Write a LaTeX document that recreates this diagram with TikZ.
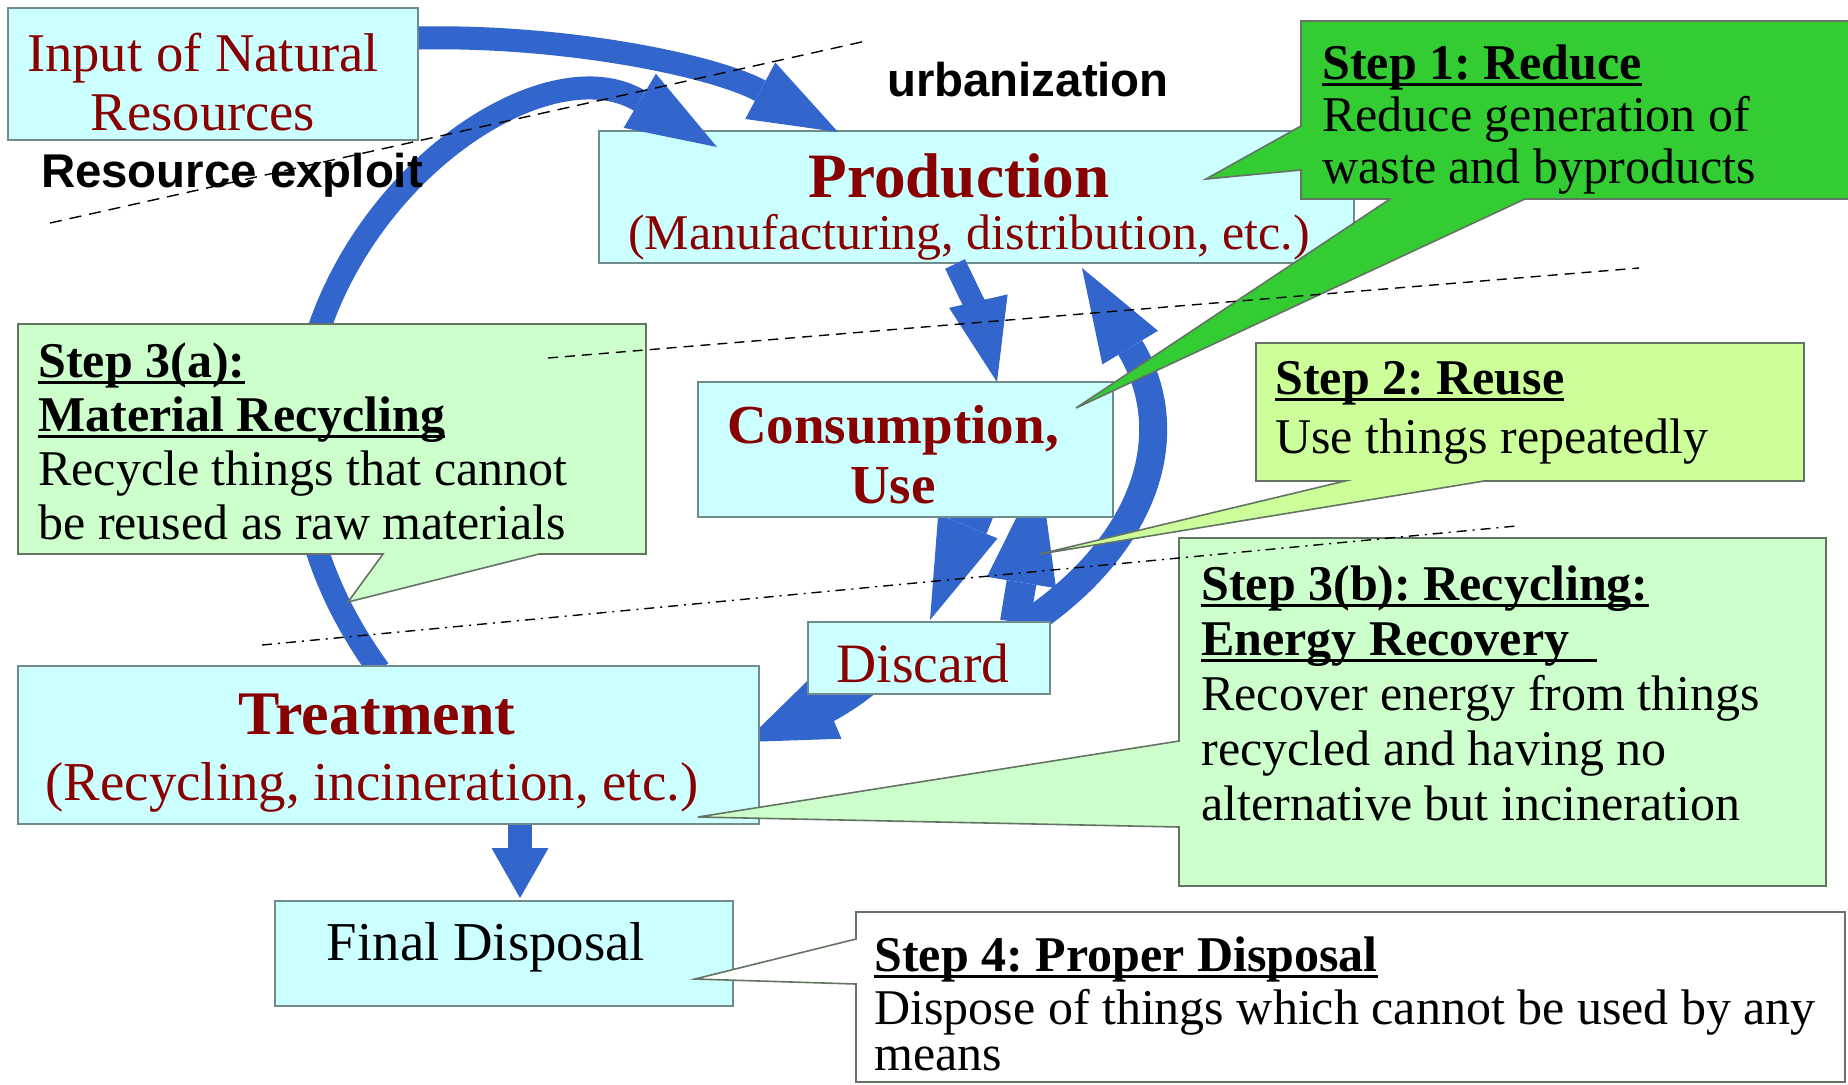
\documentclass[tikz,border=0pt]{standalone}
\usepackage{fontspec}
\setmainfont{Liberation Serif}
\newfontfamily\headfont{Liberation Sans}
\usetikzlibrary{arrows.meta,calc}
\frenchspacing

\definecolor{flowblue}{RGB}{51,102,204}
\definecolor{boxcyan}{RGB}{204,255,255}
\definecolor{boxline}{RGB}{110,140,140}
\definecolor{boxred}{RGB}{136,0,0}
\definecolor{reducegreen}{RGB}{51,204,51}
\definecolor{reusegreen}{RGB}{204,255,153}
\definecolor{recyclegreen}{RGB}{204,255,204}
\definecolor{calloutline}{RGB}{100,115,100}

\pgfdeclarelayer{under}
\pgfdeclarelayer{flows}
\pgfsetlayers{under,flows,main}

\newcommand\steptitle[1]{{\setbox0=\hbox{\bfseries #1}\rlap{\rule[-3.5pt]{\wd0}{1.6pt}}\box0}}

\tikzset{
  procbox/.style={draw=boxline, fill=boxcyan, line width=1pt, inner sep=0pt, outer sep=0pt},
  flow/.style={draw=flowblue, line cap=butt},
  callout/.style={draw=calloutline, line width=0.8pt, line join=miter},
  boxtext/.style={anchor=base, inner sep=0pt, text=boxred, align=center},
  steptext/.style={anchor=base west, inner sep=0pt, align=left},
  zoneline/.style={line width=0.7pt, dash pattern=on 6pt off 4pt}
}

\begin{document}
\begin{tikzpicture}[x=0.5pt,y=0.5pt,yscale=-1,xscale=1]
        \useasboundingbox (0,0) rectangle (1848,1084);
        \begin{pgfonlayer}{under}
        \fill[white] (0,0) rectangle (1848,1084);
        \node[procbox, minimum width=205pt, minimum height=66pt] (inp) at (213,74) {};
        \node[procbox, minimum width=377.5pt, minimum height=66pt] (prod) at (976.5,197) {};
        \end{pgfonlayer}

        \node[procbox, minimum width=207.5pt, minimum height=67.5pt] (cons) at (905.5,449.5) {};
        \node[procbox, minimum width=121pt, minimum height=36pt] (disc) at (929,658) {};
        \node[procbox, minimum width=370.5pt, minimum height=79pt] (treat) at (388.5,745) {};
        \node[procbox, minimum width=229pt, minimum height=52.5pt] (fdisp) at (504,953.5) {};

        % flows
        \begin{pgfonlayer}{flows}
        \draw[flow, line width=11.5pt, -{Triangle[length=44pt,width=32pt,line width=0pt]}] ($(inp.north east)+(1,30)$) .. controls (560,35) and (710,64) .. ($(prod.north west)+(239,1)$);
        \draw[flow, line width=11.5pt, -{Triangle[length=45pt,width=31.5pt,line width=0pt]}] ($(treat.north)+(-9.5,4)$) .. controls (141,341) and (503,19) .. ($(prod.north west)+(118,16)$);
        \draw[flow, line width=11pt, -{Triangle[length=41.5pt,width=30pt,line width=0pt]}] ($(prod.south)+(-21.5,1)$) .. controls (968,290) and (985,330) .. ($(cons.north)+(91.5,0)$);
        \draw[flow, line width=14pt, -{Triangle[length=46.5pt,width=32.5pt,line width=0pt]}] ($(disc.north east)+(-20,0)$) .. controls (1150,540) and (1180,430) .. ($(prod.south)+(105.5,5)$);
        \draw[flow, line width=20pt, -{Triangle[length=50.5pt,width=32pt,line width=0pt]}] ($(cons.center)+(81.5,29.5)$) -- ($(disc.north)+(1,-2)$);
        \draw[flow, line width=15pt, -{Triangle[length=57pt,width=35pt,line width=0pt]}] ($(disc.north)+(86,0)$) -- ($(cons.south)+(134.5,-47)$);
        \draw[flow, line width=16pt, -{Triangle[length=45pt,width=35pt,line width=0pt]}] ($(disc.center)+(-39,-3)$) .. controls (865,690) and (815,712) .. ($(treat.east)+(-14,-3)$);
        \draw[flow, line width=12pt, -{Triangle[length=25pt,width=28.5pt,line width=0pt]}] ($(treat.south)+(131.5,0)$) -- ($(fdisp.north)+(16,-3)$);
        \end{pgfonlayer}

        % callouts
        \draw[callout, fill=recyclegreen] (18,324) -- (646,324) -- (646,554) -- (539,554) -- (348,602) -- (383,554) -- (18,554) -- cycle;
        \draw[callout, fill=reducegreen] (1301,21) -- (1860,21) -- (1860,199) -- (1525,199) -- (1076,408) -- (1390,199) -- (1301,199) -- (1301,170) -- (1206,179) -- (1301,126) -- cycle;
        \draw[callout, fill=reusegreen] (1256,343) -- (1804,343) -- (1804,481) -- (1484,481) -- (1040,554) -- (1345,481) -- (1256,481) -- cycle;
        \draw[callout, fill=recyclegreen] (1179,538) -- (1826,538) -- (1826,886) -- (1179,886) -- (1179,827) -- (698,817) -- (1179,741) -- cycle;
        \draw[callout, fill=white] (856,912) -- (1845,912) -- (1845,1082) -- (856,1082) -- (856,984) -- (695,979) -- (856,939) -- cycle;

        \node[boxtext, font=\fontsize{27.3}{29.5}\selectfont] (inptxt) at (203,130) {Input of Natural\\Resources};
        \node[boxtext, font=\fontsize{31.6}{34}\selectfont\bfseries] (prodtitle) at (959,197) {Production};
        \node[boxtext, font=\fontsize{25}{27}\selectfont] (prodsub) at (969,249) {(Manufacturing, distribution, etc.)};
        \node[boxtext, font=\fontsize{27.5}{30}\selectfont\bfseries] (constxt) at (893,503) {Consumption,\\Use};
        \node[boxtext, font=\fontsize{27.8}{30}\selectfont] (disctxt) at (923,682) {Discard};
        \node[boxtext, font=\fontsize{31}{34}\selectfont\bfseries] (treattitle) at (377,734) {Treatment};
        \node[boxtext, font=\fontsize{27.4}{30}\selectfont] (treatsub) at (372,800) {(Recycling, incineration, etc.)};
        \node[boxtext, text=black, font=\fontsize{27.4}{30}\selectfont] (fdtxt) at (486,960) {Final Disposal};

        \node[anchor=base, inner sep=0pt, font=\headfont\bfseries\fontsize{23.7}{26}\selectfont] (urbtxt) at (1028,96) {urbanization};
        \node[anchor=base, inner sep=0pt, font=\headfont\bfseries\fontsize{23.7}{26}\selectfont] (restxt) at (232,187) {Resource exploit};

        \node[steptext, font=\fontsize{25}{26}\selectfont] (step1txt) at (1322,183) {\steptitle{Step 1: Reduce}\\Reduce generation of\\waste and byproducts};
        \node[steptext, font=\fontsize{25}{29.5}\selectfont] (step2txt) at (1275,453) {\steptitle{Step 2: Reuse}\\Use things repeatedly};
        \node[steptext, font=\fontsize{25}{27}\selectfont] (step3atxt) at (38,539) {\steptitle{Step 3(a):}\\\steptitle{Material Recycling}\\Recycle things that cannot\\be reused as raw materials};
        \node[steptext, font=\fontsize{25}{27.5}\selectfont] (step3btxt) at (1201,820) {\steptitle{Step 3(b): Recycling:}\\\steptitle{Energy Recovery\hspace{14pt}}\\Recover energy from things\\recycled and having no\\alternative but incineration};
        \node[steptext, font=\fontsize{25}{26.5}\selectfont] (step4txt) at (874,1070) {\steptitle{Step 4: Proper Disposal}\\Dispose of things which cannot be used by any\\[-3.5pt]means};

        % zone lines
        \draw[zoneline] (50,223) -- (866,41);
        \draw[line width=0.7pt, dash pattern=on 5pt off 3.5pt] (548,358) -- (1639,268);
        \draw[line width=0.7pt, dash pattern=on 5pt off 3pt on 1pt off 3pt] (262,645) -- (1516,526);
    \end{tikzpicture}
\end{document}
